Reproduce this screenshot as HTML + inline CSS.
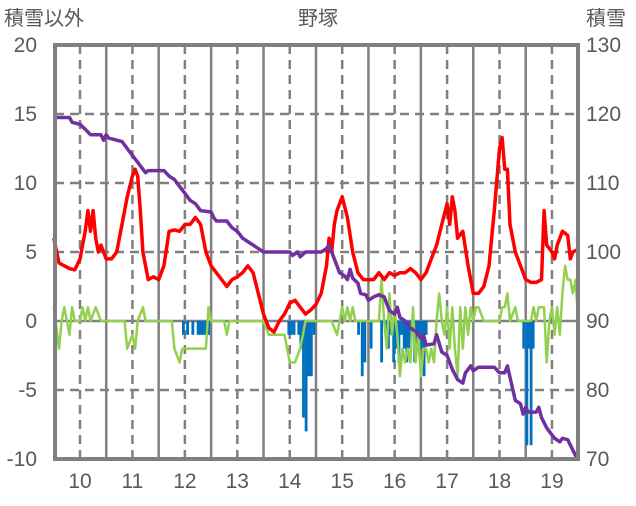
<!DOCTYPE html>
<html><head><meta charset="utf-8">
<style>
html,body{margin:0;padding:0;background:#fff;}
svg text{font-family:"Liberation Sans","Noto Sans CJK JP",sans-serif;fill:#595959;}
</style></head>
<body>
<svg id="chart" width="636" height="501" viewBox="0 0 636 501" xmlns="http://www.w3.org/2000/svg">
<text x="318" y="25" font-size="20" text-anchor="middle">野塚</text>
<text x="4" y="25" font-size="20">積雪以外</text>
<text x="586" y="25" font-size="20">積雪</text>
<g id="grid"></g>
<g id="series"></g>
<rect x="55" y="45" width="523" height="414" fill="none" stroke="#808080" stroke-width="4"/>
<g id="ticks"></g>
</svg>
<script>
const xTicks=[10,11,12,13,14,15,16,17,18,19];
const leftTicks=[20,15,10,5,0,-5,-10];
const rightTicks=[130,120,110,100,90,80,70];
const redDays=[9.5,9.6,9.7,9.8,9.9,10.0,10.1,10.15,10.2,10.25,10.3,10.35,10.4,10.5,10.6,10.7,10.8,10.9,11.0,11.05,11.1,11.15,11.2,11.3,11.4,11.5,11.6,11.7,11.8,11.9,12.0,12.1,12.2,12.3,12.4,12.5,12.6,12.7,12.8,12.9,13.0,13.1,13.2,13.3,13.4,13.5,13.6,13.7,13.8,13.9,14.0,14.1,14.2,14.3,14.4,14.5,14.6,14.7,14.75,14.8,14.85,14.9,15.0,15.1,15.2,15.3,15.4,15.5,15.6,15.7,15.8,15.9,16.0,16.1,16.2,16.3,16.4,16.5,16.6,16.7,16.8,16.9,17.0,17.05,17.1,17.15,17.2,17.3,17.4,17.5,17.6,17.7,17.8,17.9,18.0,18.05,18.1,18.15,18.2,18.3,18.4,18.5,18.6,18.7,18.8,18.85,18.9,19.0,19.05,19.1,19.2,19.3,19.35,19.4,19.5];
const redVals=[6,4.2,4,3.8,3.7,4.5,6.5,8,6.5,8,6,5,5.5,4.5,4.5,5,7,9,10.5,11,10.5,8,5,3,3.2,3,4,6.5,6.6,6.5,7,7,7.5,7,5,4,3.5,3,2.5,3,3.2,3.5,4,3.5,2,0.5,-0.5,-0.8,0,0.5,1.3,1.5,1,0.5,0.8,1.2,2,4,6,5,7,8,9,7.5,5,3.5,3,3,3,3.5,3,3.5,3.3,3.5,3.5,3.8,3.5,3,3.5,4.5,5.5,7,8.5,7,9,8,6,6.5,4,2,2,2.5,4,8,12.5,13.3,11,11,7,5,4,3,2.8,2.8,3,8,5.5,5,4.5,5.5,6.5,6.2,4.5,5,5.2];
const purpleDays=[9.5,9.8,9.85,10.0,10.1,10.2,10.4,10.45,10.5,10.55,10.8,10.9,11.0,11.1,11.15,11.25,11.3,11.6,11.7,11.8,11.9,12.0,12.1,12.2,12.3,12.5,12.55,12.6,12.8,12.9,13.0,13.1,13.2,13.3,13.5,13.8,14.0,14.05,14.15,14.2,14.3,14.6,14.7,14.75,14.85,14.95,15.05,15.1,15.15,15.2,15.3,15.35,15.45,15.5,15.6,15.7,15.8,15.9,16.0,16.05,16.1,16.2,16.3,16.4,16.5,16.55,16.6,16.75,16.8,16.9,17.0,17.1,17.2,17.3,17.35,17.45,17.5,17.6,17.9,18.0,18.1,18.15,18.3,18.4,18.45,18.5,18.55,18.7,18.75,18.8,18.9,19.0,19.05,19.15,19.2,19.3,19.45,19.5];
const purpleVals=[119.5,119.5,118.8,118.5,117.8,117,117,116.2,117,116.5,116,115,114,113,112.5,111.5,111.8,111.8,111,110.5,109.5,108.5,107.5,107,106,105.8,105,104.5,104.5,103.5,103,102,101.5,101,100,100,100,99.5,100,99.3,100,100,100.5,101,99,97,96.5,96,97.5,96.2,95.5,94,93.8,93,93.5,93.8,93.5,91.5,91,92,90.5,90,89,88.5,87.5,88,86.5,86.7,88,85.5,85,83,81.5,81,82.5,83.5,82.8,83.3,83.3,82.5,82.5,83.5,78.5,78,76.5,77.5,76.8,76.8,77.5,76,74.5,73.5,73,72.5,73,72.8,70.5,70];
const greenDays=[9.5,9.6,9.65,9.7,9.8,9.85,9.9,10.0,10.05,10.1,10.15,10.2,10.3,10.4,10.85,10.9,11.0,11.05,11.1,11.2,11.25,11.75,11.8,11.9,11.95,12.0,12.4,12.45,12.5,12.75,12.8,12.85,13.5,13.6,13.7,13.8,13.9,14.0,14.1,14.2,14.25,14.3,14.8,14.9,15.0,15.05,15.1,15.15,15.2,15.25,15.7,15.75,15.8,15.85,15.9,15.95,16.0,16.05,16.1,16.15,16.2,16.25,16.3,16.35,16.4,16.45,16.5,16.55,16.6,16.65,16.7,16.75,16.8,16.85,16.9,16.95,17.0,17.05,17.1,17.15,17.2,17.25,17.3,17.35,17.4,17.45,17.5,17.55,17.6,17.7,18.0,18.05,18.1,18.15,18.2,18.3,18.35,18.6,18.65,18.7,18.75,18.8,18.85,18.9,18.95,19.0,19.05,19.1,19.15,19.2,19.25,19.3,19.35,19.4,19.45,19.5];
const greenVals=[1,-2,0,1,-1,1,0,0,1,0,1,0,1,0,0,-2,-1,-2,0,1,0,0,-2,-3,-2,-2,-2,1,0,0,-1,0,0,-1,-1,-1,-1,-3,-3,-2,-1,0,0,-1,1,0,1,0,1,0,0,3,0,-2,2,-1,1,-1,-4,-2,-3,-2,-3,1,-3,-1,-4,-2,-2,-3,-2,-3,0,2,0,-1,1,-2,1,-2,-4,1,-2,1,-1,1,0,1,1,0,0,1,1,2,0,1,0,0,1,0,1,1,1,-3,0,1,-1,1,-1,2,4,3,3,2,3,0];
const barDays=[11.97,12.05,12.15,12.25,12.3,12.35,12.4,12.45,13.98,14.03,14.08,14.17,14.21,14.26,14.31,14.36,14.41,14.46,15.31,15.38,15.43,15.55,15.75,15.83,15.88,15.93,15.98,16.03,16.08,16.13,16.18,16.23,16.28,16.33,16.38,16.43,16.48,16.52,16.56,16.6,18.46,18.52,18.56,18.6,18.64];
const barVals=[-1,-1,-1,-1,-1,-1,-1,-1,-1,-1,-1,-1,-2,-7,-8,-4,-4,-1,-1,-4,-3,-2,-3,-1,-2,-1,-3,-2,-3,-1,-2,-3,-2,-1,-3,-2,-1,-2,-4,-1,-2,-9,-2,-9,-2];

const X0=55,X1=578,Y0=459,Y1=45;
const xs=d=>80+(d-10)*52.44;
const yl=v=>Y0-(v+10)/30*(Y0-Y1);
const yr=v=>Y0-(v-70)/60*(Y0-Y1);
const NS="http://www.w3.org/2000/svg";
function mk(tag,attrs,parent){const e=document.createElementNS(NS,tag);for(const k in attrs)e.setAttribute(k,attrs[k]);parent.appendChild(e);return e;}
const grid=document.getElementById('grid'),series=document.getElementById('series'),ticks=document.getElementById('ticks');
leftTicks.forEach(t=>{if(t===20||t===-10)return;const y=yl(t);
 const l=mk('line',{x1:X0,x2:X1,y1:y,y2:y,stroke:'#808080','stroke-width':2.5,'stroke-dasharray':t===0?'none':'9 6'},grid);
 
 });
for(let d=9.5;d<=19.51;d+=0.5){const x=xs(d);if(x<=X0+2||x>=X1-2)continue;const dashed=Math.abs(d-Math.round(d))<0.01;
 const l=mk('line',{x1:x,x2:x,y1:Y1,y2:Y0,stroke:'#808080','stroke-width':2.5,'stroke-dasharray':dashed?'9 6':'none'},grid);
 
 }
barDays.forEach((d,i)=>{const v=barVals[i];
 const r=mk('rect',{x:xs(d)-1.3,y:yl(0),width:2.8,height:yl(v)-yl(0),fill:'#0070C0'},series);
 
 });
function line(days,vals,fy,color,w,name){const p=days.map((d,i)=>xs(d).toFixed(1)+','+fy(vals[i]).toFixed(1)).join(' ');
 const e=mk('polyline',{points:p,fill:'none',stroke:color,'stroke-width':w,'stroke-linejoin':'round'},series);
 
 }
line(greenDays,greenVals,yl,'#92D050',2.5,'green-series');
line(redDays,redVals,yl,'#FF0000',3.5,'temperature-line');
line(purpleDays,purpleVals,yr,'#7030A0',3.5,'snow-depth-line');
leftTicks.forEach(t=>{const e=mk('text',{x:37,y:yl(t)+7,'font-size':21,'text-anchor':'end'},ticks);e.textContent=t;
 
 });
rightTicks.forEach(t=>{const e=mk('text',{x:586,y:yr(t)+7,'font-size':21},ticks);e.textContent=t;
 
 });
xTicks.forEach(t=>{const e=mk('text',{x:xs(t),y:488,'font-size':21,'text-anchor':'middle'},ticks);e.textContent=t;
 
 });
</script>
</body></html>
